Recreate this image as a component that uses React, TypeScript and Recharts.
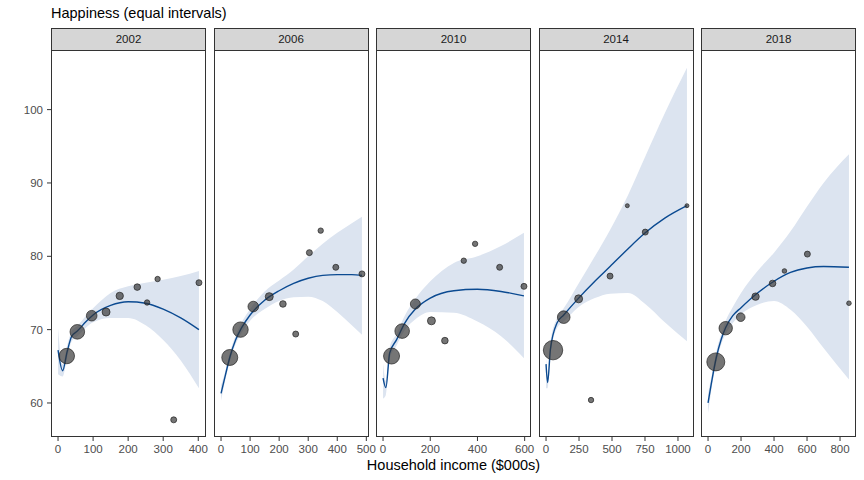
import React from 'react';
import { ComposedChart, Area, Line, Scatter, XAxis, YAxis, ZAxis } from 'recharts';

// survey bins: household income ($000s), mean happiness, respondents
const income2002 = [25, 55, 96, 137, 176, 226, 254, 284, 330, 402];
const happy2002 = [66.4, 69.7, 71.9, 72.4, 74.6, 75.8, 73.7, 76.9, 57.7, 76.4];
const n2002 = [593, 533, 281, 160, 137, 109, 73, 73, 90, 90];

const income2006 = [30, 67, 111, 166, 213, 257, 304, 343, 395, 485];
const happy2006 = [66.2, 70.0, 73.15, 74.5, 73.5, 69.4, 80.5, 83.5, 78.5, 77.6];
const n2006 = [640, 593, 281, 160, 109, 90, 90, 73, 90, 90];

const income2010 = [36, 81, 137, 205, 262, 342, 390, 494, 597];
const happy2010 = [66.4, 69.8, 73.5, 71.2, 68.5, 79.4, 81.7, 78.5, 75.9];
const n2010 = [640, 533, 250, 160, 109, 73, 73, 90, 90];

const income2014 = [53, 134, 247, 341, 485, 616, 752, 1068];
const happy2014 = [67.2, 71.7, 74.2, 60.4, 77.3, 86.9, 83.3, 86.9];
const n2014 = [941, 397, 160, 73, 90, 40, 90, 40];

const income2018 = [47, 107, 198, 288, 391, 463, 602, 854];
const happy2018 = [65.6, 70.2, 71.7, 74.5, 76.3, 78.0, 80.3, 73.6];
const n2018 = [810, 449, 185, 137, 109, 53, 90, 53];

// smoother fit and its confidence band
const fitX2002 = [0, 13, 26, 39, 55, 80, 100, 150, 200, 250, 300, 350, 402];
const fit2002 = [67.2, 64.4, 67.0, 69.1, 69.8, 71.1, 72.0, 73.3, 73.8, 73.6, 72.8, 71.6, 70.0];
const low2002 = [63.9, 63.6, 66.2, 68.4, 69.1, 70.3, 71.0, 71.6, 71.6, 70.6, 68.6, 65.8, 62.0];
const high2002 = [70.2, 65.3, 67.8, 69.8, 70.5, 71.9, 72.9, 75.0, 75.9, 76.4, 76.8, 77.3, 78.0];

const fitX2006 = [0, 15, 30, 50, 70, 100, 150, 200, 250, 300, 350, 400, 450, 485];
const fit2006 = [61.3, 63.8, 66.2, 68.6, 70.2, 72.0, 74.0, 75.3, 76.3, 77.0, 77.4, 77.5, 77.5, 77.4];
const low2006 = [60.3, 63.2, 65.6, 68.0, 69.5, 71.2, 72.8, 73.9, 74.4, 74.5, 73.9, 72.4, 70.6, 69.3];
const high2006 = [62.4, 64.4, 66.8, 69.2, 70.9, 72.8, 75.2, 76.7, 78.2, 80.0, 81.7, 83.2, 84.5, 85.4];

const fitX2010 = [0, 12, 28, 57, 92, 137, 200, 300, 400, 500, 597];
const fit2010 = [63.4, 62.1, 66.8, 68.6, 70.9, 72.8, 74.3, 75.3, 75.5, 75.2, 74.6];
const low2010 = [60.6, 61.1, 66.0, 67.8, 69.9, 71.4, 72.4, 72.3, 71.1, 69.1, 66.1];
const high2010 = [65.4, 63.0, 67.6, 69.4, 71.9, 74.2, 76.6, 79.1, 80.0, 81.4, 83.2];

const fitX2014 = [0, 12, 33, 83, 134, 247, 370, 485, 620, 752, 900, 1068];
const fit2014 = [65.3, 62.8, 67.3, 70.9, 72.0, 74.3, 76.6, 78.6, 81.0, 83.2, 85.2, 86.9];
const low2014 = [62.0, 62.0, 66.4, 70.2, 71.1, 73.1, 74.3, 74.9, 75.0, 73.5, 71.0, 68.4];
const high2014 = [66.3, 63.6, 68.2, 71.6, 72.9, 76.3, 80.0, 83.6, 88.3, 93.6, 99.5, 105.7];

const fitX2018 = [0, 25, 50, 80, 107, 150, 200, 300, 400, 500, 600, 700, 854];
const fit2018 = [60.0, 63.3, 66.2, 68.7, 70.3, 71.9, 73.0, 75.0, 76.6, 77.8, 78.4, 78.6, 78.5];
const low2018 = [58.6, 62.5, 65.5, 68.0, 69.4, 70.9, 72.1, 73.4, 73.9, 72.7, 70.4, 67.5, 63.2];
const high2018 = [61.3, 64.1, 67.0, 69.4, 71.2, 73.1, 75.0, 78.0, 80.5, 83.4, 86.8, 90.0, 93.9];

const years = ['2002', '2006', '2010', '2014', '2018'];
const xTicks = [
  [0, 100, 200, 300, 400],
  [0, 100, 200, 300, 400, 500],
  [0, 200, 400, 600],
  [0, 250, 500, 750, 1000],
  [0, 200, 400, 600, 800],
];
const yTicks = [60, 70, 80, 90, 100];

const raw = [
  [income2002, happy2002, n2002, fitX2002, fit2002, low2002, high2002],
  [income2006, happy2006, n2006, fitX2006, fit2006, low2006, high2006],
  [income2010, happy2010, n2010, fitX2010, fit2010, low2010, high2010],
  [income2014, happy2014, n2014, fitX2014, fit2014, low2014, high2014],
  [income2018, happy2018, n2018, fitX2018, fit2018, low2018, high2018],
];

const panels = raw.map(([inc, hap, n, fx, fit, lo, hi], i) => {
  const maxX = Math.max(...inc, ...fx);
  return {
    year: years[i],
    ticks: xTicks[i],
    xDomain: [-0.05 * maxX, maxX * 1.05],
    points: inc.map((x, j) => ({ x, y: hap[j], n: n[j] })),
    curve: fx.map((x, j) => ({ x, fit: fit[j], band: [lo[j], hi[j]] })),
  };
});

const LEFT0 = 51;
const STEP = 162.5;
const PW = 155;
const TOP = 50;
const PH = 387;
const PAD_R = 14; // room for the last tick label
const Y_DOMAIN = [55.36, 108.13];
const FONT = '"Liberation Sans", Arial, sans-serif';

function Panel({ p, i }: { p: any; i: number }) {
  const left = LEFT0 + i * STEP;
  const yw = i === 0 ? LEFT0 : 0;
  return (
    <>
      <div
        style={{
          position: 'absolute', left, top: 28, width: PW, height: 23,
          boxSizing: 'border-box', background: '#D6D6D6', border: '1px solid #333',
          fontSize: 11.5, color: '#1A1A1A', textAlign: 'center', lineHeight: '21px',
        }}
      >
        {p.year}
      </div>
      <div style={{ position: 'absolute', left: left - yw, top: TOP }}>
        <ComposedChart
          width={PW + yw + PAD_R}
          height={PH + 30}
          data={p.curve}
          margin={{ top: 0, right: PAD_R, bottom: 0, left: 0 }}
        >
          <XAxis
            type="number"
            dataKey="x"
            domain={p.xDomain}
            ticks={p.ticks}
            interval={0}
            height={30}
            axisLine={false}
            tickLine={{ stroke: '#333' }}
            tickSize={4}
            tickMargin={4}
            tick={{ fill: '#4D4D4D', fontSize: 11.5 }}
          />
          <YAxis
            type="number"
            domain={Y_DOMAIN}
            ticks={yTicks}
            interval={0}
            width={yw}
            hide={i !== 0}
            axisLine={false}
            tickLine={{ stroke: '#333' }}
            tickSize={4}
            tickMargin={4}
            tick={{ fill: '#4D4D4D', fontSize: 11.5 }}
          />
          <ZAxis type="number" dataKey="n" domain={[0, 1000]} range={[0, 314]} />
          <Area
            dataKey="band"
            type="monotone"
            stroke="none"
            fill="#DCE4F0"
            fillOpacity={1}
            isAnimationActive={false}
          />
          <Scatter
            data={p.points}
            dataKey="y"
            fill="#333"
            fillOpacity={0.68}
            stroke="#222"
            strokeOpacity={0.7}
            isAnimationActive={false}
          />
          <Line
            dataKey="fit"
            type="monotone"
            stroke="#0B4A91"
            strokeWidth={1.4}
            dot={false}
            isAnimationActive={false}
          />
        </ComposedChart>
      </div>
      <div
        style={{
          position: 'absolute', left, top: TOP, width: PW, height: PH,
          boxSizing: 'border-box', border: '1px solid #333', pointerEvents: 'none',
        }}
      />
    </>
  );
}

export default function App() {
  return (
    <div
      style={{
        position: 'absolute', left: 0, top: 0, width: 864, height: 480,
        background: '#fff', fontFamily: FONT, overflow: 'hidden',
      }}
    >
      <div style={{ position: 'absolute', left: 51, top: 6, fontSize: 14.5, lineHeight: 1, color: '#000' }}>
        Happiness (equal intervals)
      </div>
      {panels.map((p, i) => (
        <Panel key={p.year} p={p} i={i} />
      ))}
      <div
        style={{
          position: 'absolute', left: LEFT0, width: 805, top: 458, fontSize: 14.5,
          lineHeight: 1, textAlign: 'center', color: '#000',
        }}
      >
        Household income ($000s)
      </div>
    </div>
  );
}
